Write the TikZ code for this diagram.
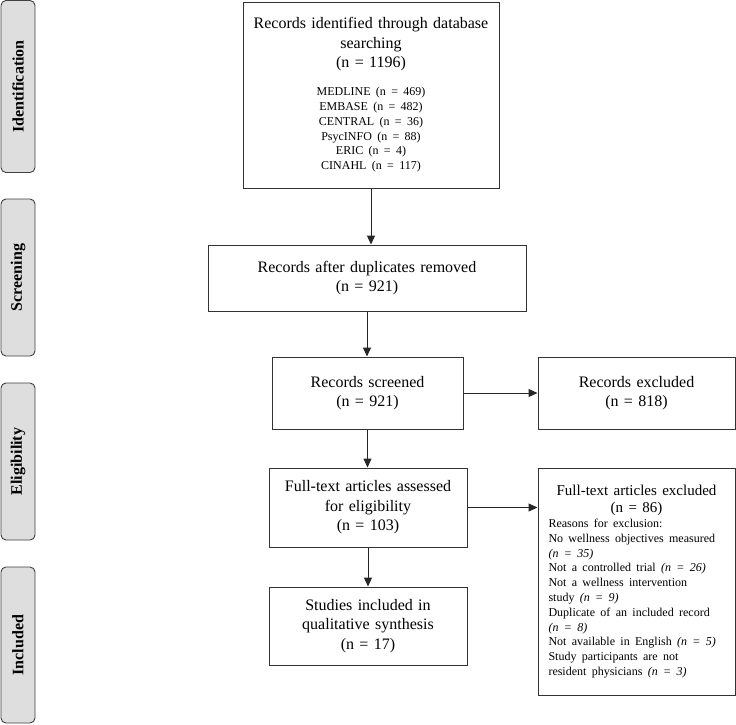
\documentclass[tikz,border=0pt]{standalone}
\usepackage{fontspec}
\setmainfont{Liberation Serif}
\usetikzlibrary{arrows.meta}

\newcommand{\bigtxt}{\fontsize{16}{19.5}\selectfont}
\newcommand{\smalltxt}{\fontsize{12}{14.8}\selectfont}

\begin{document}
\begin{tikzpicture}[x=1pt,y=-1pt]

\tikzset{box/.style={draw=black!80, line width=1pt, align=center, inner sep=0pt, font=\bigtxt},
  phase/.style={draw=black!75, fill=black!13, rounded corners=5pt, line width=0.9pt,
    minimum height=34pt, inner sep=0pt, rotate=90, font=\fontsize{16}{18}\selectfont\bfseries},
  arr/.style={-{Triangle[length=9pt,width=8pt]}, line width=1pt, draw=black!85}}

\useasboundingbox (0,0) rectangle (736,724);

\node[phase, minimum width=172pt] (idph) at (18,86.5) {Identification};
\node[phase, minimum width=157pt] (scph) at (18,277.5) {Screening};
\node[phase, minimum width=157pt] (elph) at (18,461.5) {Eligibility};
\node[phase, minimum width=156pt] (inph) at (18,645) {Included};

\node[box, minimum width=256pt, minimum height=186pt, text width=250pt] (ident) at (371,95)
  {Records identified through database\\ searching\\ (n = 1196)\par\vspace{13pt}
   \smalltxt MEDLINE (n = 469)\\ EMBASE (n = 482)\\ CENTRAL (n = 36)\\ PsycINFO (n = 88)\\
   ERIC (n = 4)\\ CINAHL (n = 117)\par};
\node[box, minimum width=318pt, minimum height=66pt, text width=300pt] (dup) at (367,278)
  {Records after duplicates removed\\ (n = 921)};
\node[box, minimum width=191pt, minimum height=72pt, text width=185pt] (screened) at (367.5,393)
  {Records screened\\ (n = 921)};
\node[box, minimum width=197pt, minimum height=72pt, text width=185pt] (excl) at (636.5,393)
  {Records excluded\\ (n = 818)};
\node[box, minimum width=198pt, minimum height=79pt, text width=190pt] (full) at (368,507.5)
  {Full-text articles assessed\\ for eligibility\\ (n = 103)};
\node[box, minimum width=197pt, minimum height=227pt, text width=176pt] (ftexcl) at (636.5,581.5)
  {\fontsize{15}{17.5}\selectfont Full-text articles excluded\\ (n = 86)\par
   \smalltxt\raggedright Reasons for exclusion:\\ No wellness objectives measured\\ \textit{(n = 35)}\\
   Not a controlled trial \textit{(n = 26)}\\ Not a wellness intervention\\ study \textit{(n = 9)}\\
   Duplicate of an included record\\ \textit{(n = 8)}\\ Not available in English \textit{(n = 5)}\\
   Study participants are not\\ resident physicians \textit{(n = 3)}\par};
\node[box, minimum width=198pt, minimum height=78pt, text width=190pt] (incl) at (368,626)
  {Studies included in\\ qualitative synthesis\\ (n = 17)};

\draw[arr] (ident.south) -- (ident.south |- dup.north);
\draw[arr] (dup.south) -- (dup.south |- screened.north);
\draw[arr] (screened.south) -- (screened.south |- full.north);
\draw[arr] (full.south) -- (full.south |- incl.north);
\draw[arr] (screened.east) -- (excl.west);
\draw[arr] (full.east) -- (full.east -| ftexcl.west);

\end{tikzpicture}
\end{document}
